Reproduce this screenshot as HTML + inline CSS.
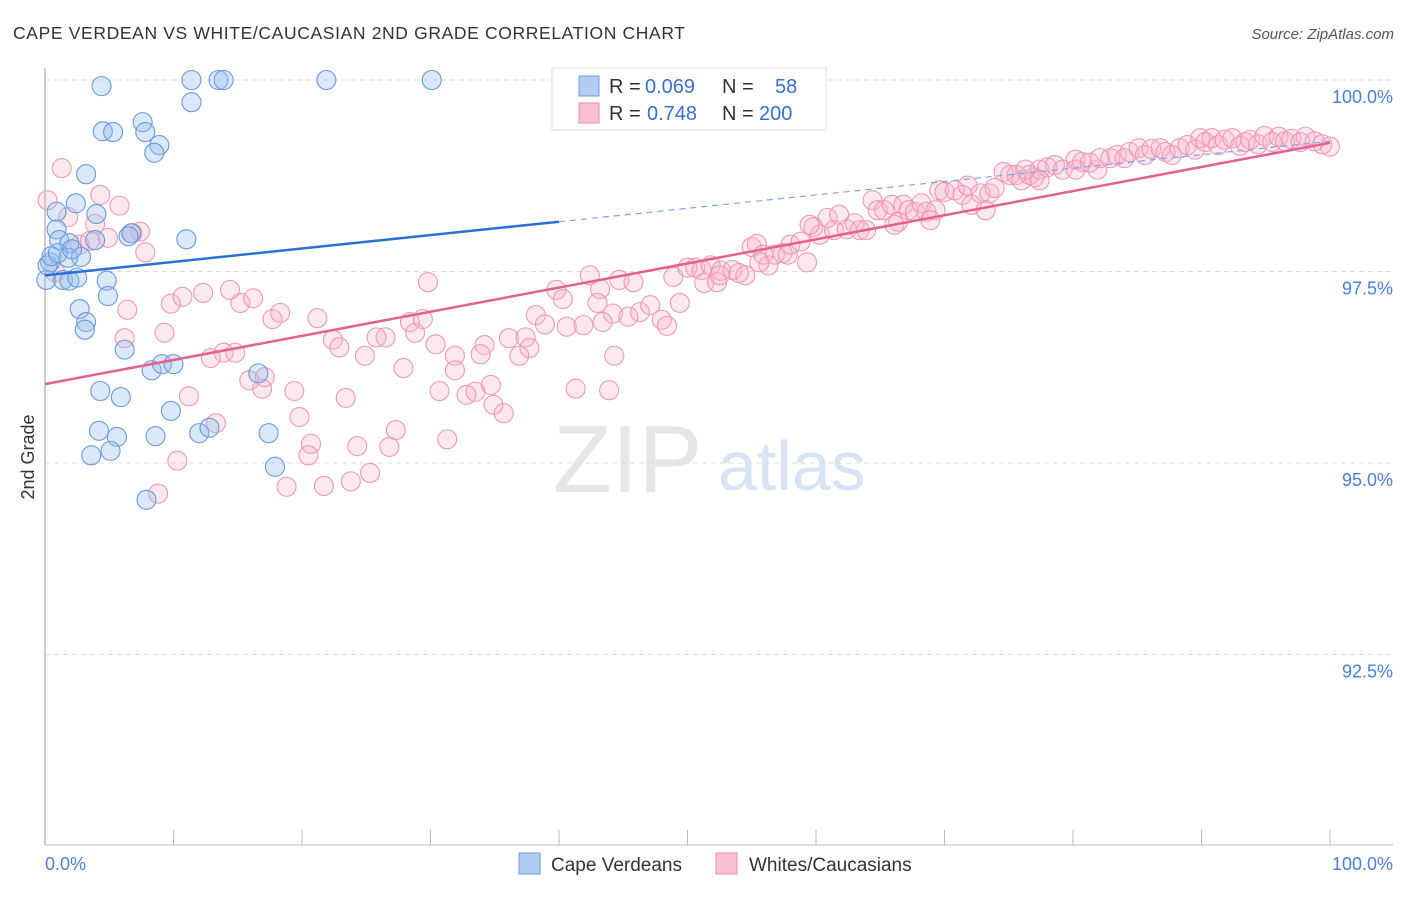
<!DOCTYPE html>
<html><head><meta charset="utf-8"><style>
body{margin:0;background:#fff;font-family:"Liberation Sans",sans-serif}
svg text{font-family:"Liberation Sans",sans-serif}
</style></head><body>
<svg id="chart" width="1406" height="892" xmlns="http://www.w3.org/2000/svg">
<text x="13" y="39" font-size="17.5" fill="#333" textLength="672" lengthAdjust="spacing">CAPE VERDEAN VS WHITE/CAUCASIAN 2ND GRADE CORRELATION CHART</text>
<text x="1394" y="39" font-size="15" fill="#555" text-anchor="end" font-style="italic">Source: ZipAtlas.com</text>
<g>
<text x="553" y="492" font-size="96" fill="#e6e6e6" font-family="Liberation Serif, serif">ZIP</text>
<text x="718" y="490" font-size="70" fill="#d8e4f5">atlas</text>
</g>
<g id="grid"></g>
<g id="axes"></g>
<g id="marks"></g>
<g id="trends"></g>
<text transform="translate(34,457) rotate(-90)" font-size="18" fill="#333" text-anchor="middle">2nd Grade</text>
<g>
<rect x="552" y="68" width="274" height="62" fill="#fff" stroke="#ddd"/>
<rect x="579" y="76" width="20" height="20" fill="#b3cdf2" stroke="#6c9ce0"/>
<rect x="579" y="103" width="20" height="20" fill="#f7c1d2" stroke="#e88ba9"/>
<text x="609" y="93" font-size="20" fill="#333">R = <tspan x="645" fill="#3a6fd0">0.069</tspan><tspan x="722">N =</tspan><tspan x="775" fill="#3a6fd0">58</tspan></text>
<text x="609" y="120" font-size="20" fill="#333">R = <tspan x="647" fill="#3a6fd0">0.748</tspan><tspan x="722">N =</tspan><tspan x="759" fill="#3a6fd0">200</tspan></text>
</g>
<g>
<rect x="519" y="853" width="21" height="21" fill="#b3cdf2" stroke="#6c9ce0"/>
<text x="551" y="871" font-size="19" fill="#333">Cape Verdeans</text>
<rect x="716" y="853" width="21" height="21" fill="#f7c1d2" stroke="#e88ba9"/>
<text x="749" y="871" font-size="19" fill="#333">Whites/Caucasians</text>
</g>
</svg>
<script>
const yTicks=[100,97.5,95,92.5];
const yTickLabels=["100.0%","97.5%","95.0%","92.5%"];
const xTickLabels=["0.0%","100.0%"];
const blueX=[4.4,11.4,13.5,13.9,21.9,30.1,11.4,4.5,5.3,7.6,7.8,8.9,8.5,3.2,0.9,2.4,4.0,0.9,1.1,1.9,1.8,2.8,0.4,0.1,1.4,1.9,2.5,4.8,4.9,2.7,3.2,3.1,11.0,6.7,6.2,8.3,9.1,10.0,16.6,4.3,5.9,9.8,4.2,5.6,3.6,5.1,8.6,12.0,12.8,17.4,17.9,7.9,0.2,0.5,1.0,2.1,3.9,6.5];
const blueY=[99.92,100,100,100,100,100,99.71,99.33,99.32,99.45,99.32,99.15,99.05,98.77,98.28,98.39,98.25,98.05,97.91,97.87,97.68,97.69,97.62,97.39,97.39,97.38,97.42,97.38,97.18,97.01,96.84,96.74,97.92,98.0,96.48,96.21,96.29,96.29,96.17,95.94,95.86,95.68,95.42,95.34,95.10,95.16,95.35,95.39,95.46,95.39,94.95,94.52,97.58,97.70,97.74,97.79,97.91,97.96];
const pinkX=[1.3,0.2,4.3,5.8,1.8,3.9,0.8,4.9,2.7,3.5,7.4,7.8,6.8,9.8,10.7,12.3,15.2,14.4,16.2,17.7,18.3,9.3,6.2,21.2,22.4,22.9,26.5,25.8,28.8,28.4,29.4,29.8,24.9,27.9,30.4,31.9,34.2,33.9,36.1,37.4,37.7,36.9,38.2,38.9,39.8,40.3,42.4,43.2,43.0,40.6,41.9,44.7,45.8,44.2,45.4,46.3,47.1,48.0,48.4,49.4,44.3,43.9,41.3,35.7,34.9,32.8,33.5,34.7,30.7,31.9,31.3,27.3,26.8,24.3,25.3,23.8,21.7,20.7,20.5,19.8,19.4,23.4,18.8,17.1,16.9,15.9,13.9,14.8,12.9,11.2,13.3,10.3,8.8,6.4,
48.9,50.0,50.6,51.1,51.8,51.3,52.3,52.6,53.5,54.0,54.5,55.0,55.4,55.9,56.3,56.8,57.4,57.8,58.0,58.8,59.3,59.8,60.3,60.9,61.4,61.8,62.4,63.0,63.4,63.9,64.4,64.8,65.3,65.9,66.4,66.8,67.2,67.7,68.2,68.6,69.3,69.6,70.0,70.8,71.4,71.8,72.1,72.8,73.5,73.9,74.6,75.1,75.6,76.0,76.6,77.0,77.4,78.0,78.6,79.2,80.2,80.7,81.3,81.9,82.1,82.9,83.4,84.0,84.4,85.1,85.6,86.1,86.8,87.2,87.7,88.3,88.9,89.5,89.9,90.3,90.8,91.3,91.8,92.4,93.0,93.4,93.8,94.4,94.9,95.5,96.0,96.5,97.0,97.7,98.1,98.8,99.4,100,77.4,80.2,76.3,73.2,68.9,66.1,59.5,55.6,52.5,43.4];
const pinkY=[98.85,98.43,98.50,98.36,98.21,98.12,97.49,97.94,97.85,97.90,98.02,97.75,98.0,97.08,97.17,97.22,97.09,97.26,97.15,96.88,96.96,96.70,96.63,96.89,96.61,96.51,96.64,96.64,96.70,96.84,96.88,97.36,96.40,96.24,96.55,96.40,96.54,96.42,96.63,96.64,96.50,96.40,96.93,96.81,97.26,97.14,97.45,97.27,97.09,96.78,96.80,97.39,97.36,96.95,96.91,96.97,97.06,96.87,96.79,97.09,96.40,95.95,95.97,95.65,95.76,95.89,95.93,96.02,95.94,96.21,95.31,95.43,95.21,95.22,94.87,94.76,94.70,95.25,95.10,95.60,95.94,95.85,94.69,96.12,95.97,96.08,96.44,96.44,96.37,95.87,95.52,95.03,94.60,97.0,
97.43,97.55,97.55,97.52,97.58,97.35,97.36,97.51,97.52,97.48,97.45,97.82,97.86,97.72,97.58,97.72,97.74,97.72,97.85,97.89,97.62,98.08,97.98,98.20,98.04,98.24,98.05,98.13,98.04,98.04,98.43,98.30,98.30,98.37,98.15,98.37,98.30,98.28,98.39,98.28,98.30,98.56,98.54,98.56,98.50,98.62,98.37,98.52,98.52,98.59,98.80,98.76,98.76,98.69,98.76,98.73,98.83,98.86,98.89,98.83,98.96,98.93,98.92,98.83,98.98,98.98,99.02,98.98,99.06,99.11,99.02,99.10,99.11,99.06,99.02,99.11,99.15,99.09,99.24,99.19,99.24,99.15,99.22,99.24,99.14,99.19,99.22,99.16,99.27,99.19,99.26,99.20,99.23,99.19,99.26,99.20,99.16,99.13,98.69,98.83,98.83,98.30,98.17,98.11,98.11,97.62,97.45,96.84];
const blueTrend=[97.45,99.2];
const pinkTrend=[96.03,99.18];

const NS="http://www.w3.org/2000/svg";
const X0=45,X1=1330,Y100=80,PX_PER=76.6;
const xs=v=>X0+(X1-X0)*v/100;
const ys=v=>Y100+(100-v)*PX_PER;
function mk(tag,attrs,parent){const e=document.createElementNS(NS,tag);for(const k in attrs)e.setAttribute(k,attrs[k]);parent.appendChild(e);return e;}
const grid=document.getElementById('grid'),axes=document.getElementById('axes'),marks=document.getElementById('marks'),trends=document.getElementById('trends');
yTicks.forEach((t,i)=>{
 const l=mk('line',{x1:45,x2:1393,y1:ys(t),y2:ys(t),stroke:'#dcdcdc','stroke-dasharray':'5,4'},grid);
 
 
 const tx=mk('text',{x:1393,y:ys(t)+23,'font-size':18,fill:'#4a7fd4','text-anchor':'end'},axes);
 tx.textContent=yTickLabels[i];
 
 
});
const ya=mk('line',{x1:45,x2:45,y1:68,y2:845,stroke:'#bbb','stroke-width':1.5},axes);


const xa=mk('line',{x1:45,x2:1393,y1:845,y2:845,stroke:'#bbb','stroke-width':1},axes);


for(let i=1;i<=10;i++){
 const tk=mk('line',{x1:xs(i*10),x2:xs(i*10),y1:830,y2:845,stroke:'#bbb'},axes);
 
 
}
const xl0=mk('text',{x:45,y:870,'font-size':18,fill:'#4a7fd4'},axes);xl0.textContent=xTickLabels[0];


const xl1=mk('text',{x:1393,y:870,'font-size':18,fill:'#4a7fd4','text-anchor':'end'},axes);xl1.textContent=xTickLabels[1];



pinkX.forEach((v,i)=>{
 const c=mk('circle',{cx:xs(v),cy:ys(pinkY[i]),r:9.5,fill:'rgba(248,180,200,0.3)',stroke:'#ee9ab5','stroke-width':1.1},marks);
 
 
});
blueX.forEach((v,i)=>{
 const c=mk('circle',{cx:xs(v),cy:ys(blueY[i]),r:9.5,fill:'rgba(150,188,238,0.35)',stroke:'#6a9ade','stroke-width':1.1},marks);
 
 
});
const bAt=x=>blueTrend[0]+(blueTrend[1]-blueTrend[0])*x/100;
const b1=mk('line',{x1:xs(0),y1:ys(bAt(0)),x2:xs(40),y2:ys(bAt(40)),stroke:'#2a6fd6','stroke-width':2.5},trends);


const b2=mk('line',{x1:xs(40),y1:ys(bAt(40)),x2:xs(100),y2:ys(bAt(100)),stroke:'#7aa6e6','stroke-width':1.2,'stroke-dasharray':'6,5'},trends);


const p1=mk('line',{x1:xs(0),y1:ys(pinkTrend[0]),x2:xs(100),y2:ys(pinkTrend[1]),stroke:'#e4608d','stroke-width':2.5},trends);


</script>
</body></html>
